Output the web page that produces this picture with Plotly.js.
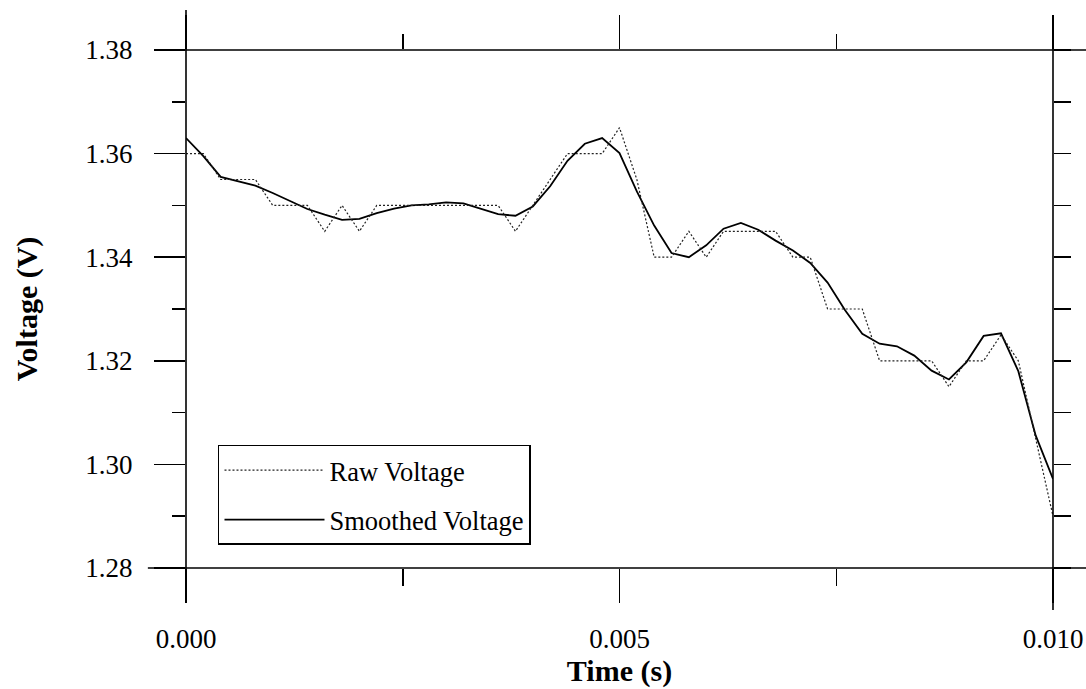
<!DOCTYPE html>
<html>
<head>
<meta charset="utf-8">
<script src="https://cdn.plot.ly/plotly-3.0.1.min.js"></script>
<style>
  html, body { margin: 0; padding: 0; background: #fff; }
  #chart { width: 1086px; height: 689px; }
</style>
</head>
<body>
<div id="chart"></div>
<script>
// Sample times (s)
const time = [
  0.0000, 0.0002, 0.0004, 0.0006, 0.0008, 0.0010, 0.0012, 0.0014, 0.0016, 0.0018,
  0.0020, 0.0022, 0.0024, 0.0026, 0.0028, 0.0030, 0.0032, 0.0034, 0.0036, 0.0038,
  0.0040, 0.0042, 0.0044, 0.0046, 0.0048, 0.0050, 0.0052, 0.0054, 0.0056, 0.0058,
  0.0060, 0.0062, 0.0064, 0.0066, 0.0068, 0.0070, 0.0072, 0.0074, 0.0076, 0.0078,
  0.0080, 0.0082, 0.0084, 0.0086, 0.0088, 0.0090, 0.0092, 0.0094, 0.0096, 0.0098,
  0.0100
];

// Raw voltage (V), quantised readings
const rawVoltage = [
  1.360, 1.360, 1.355, 1.355, 1.355, 1.350, 1.350, 1.350, 1.345, 1.350,
  1.345, 1.350, 1.350, 1.350, 1.350, 1.350, 1.350, 1.350, 1.350, 1.345,
  1.350, 1.355, 1.360, 1.360, 1.360, 1.365, 1.355, 1.340, 1.340, 1.345,
  1.340, 1.345, 1.345, 1.345, 1.345, 1.340, 1.340, 1.330, 1.330, 1.330,
  1.320, 1.320, 1.320, 1.320, 1.315, 1.320, 1.320, 1.325, 1.320, 1.305,
  1.290
];

// Smoothed voltage (V)
const smoothedVoltage = [
  1.3630, 1.3595, 1.3555, 1.3546, 1.3538, 1.3524, 1.3509, 1.3493, 1.3482, 1.3472,
  1.3474, 1.3485, 1.3494, 1.3500, 1.3502, 1.3506, 1.3504, 1.3494, 1.3483, 1.3480,
  1.3498, 1.3537, 1.3586, 1.3619, 1.3630, 1.3601, 1.3527, 1.3461, 1.3408, 1.3400,
  1.3423, 1.3455, 1.3466, 1.3453, 1.3432, 1.3413, 1.3389, 1.3351, 1.3298, 1.3252,
  1.3233, 1.3228, 1.3210, 1.3181, 1.3164, 1.3197, 1.3248, 1.3253, 1.3180, 1.3056,
  1.2972
];

const seriesNames = ['Raw Voltage', 'Smoothed Voltage'];
const xTitle = 'Time (s)';
const yTitle = 'Voltage (V)';
const xRange = [0, 0.010];
const yRange = [1.28, 1.38];
const xMajorTicks = [0, 0.005, 0.010];
const xMajorLabels = ['0.000', '0.005', '0.010'];
const xMinorTicks = [0.0025, 0.0075];
const yMajorTicks = [1.28, 1.30, 1.32, 1.34, 1.36, 1.38];
const yMajorLabels = ['1.28', '1.30', '1.32', '1.34', '1.36', '1.38'];
const yMinorTicks = [1.29, 1.31, 1.33, 1.35, 1.37];
const yRightTicks = [1.28, 1.29, 1.30, 1.31, 1.32, 1.33, 1.34, 1.35, 1.36, 1.37, 1.38];

const FONT = 'Liberation Serif, "Times New Roman", Times, serif';
const INK = '#000000';

const traces = [
  {
    x: time, y: rawVoltage, name: seriesNames[0],
    type: 'scatter', mode: 'lines',
    xaxis: 'x2', yaxis: 'y2',
    legendgroup: 'a',
    line: { color: '#222222', width: 1.2, dash: '2px,2px' },
    hoverinfo: 'skip'
  },
  {
    x: time, y: smoothedVoltage, name: seriesNames[1],
    type: 'scatter', mode: 'lines',
    legendgroup: 'b',
    line: { color: INK, width: 1.8 },
    hoverinfo: 'skip'
  }
];

const axisLine = (x0, y0, x1, y1) => ({
  type: 'line', xref: 'paper', yref: 'paper',
  x0: x0, y0: y0, x1: x1, y1: y1,
  line: { color: INK, width: 1.6 }, layer: 'above'
});

const layout = {
  width: 1086, height: 689,
  margin: { l: 186, r: 33, t: 50, b: 121, pad: 0 },
  paper_bgcolor: '#ffffff', plot_bgcolor: '#ffffff',
  font: { family: FONT, color: INK, size: 27 },
  showlegend: true,
  legend: {
    x: 0.0369, y: 0.2375, xanchor: 'left', yanchor: 'top',
    bordercolor: INK, borderwidth: 1.5, bgcolor: '#ffffff',
    font: { family: FONT, size: 26.5, color: INK },
    itemwidth: 100, traceorder: 'grouped', tracegroupgap: 12
  },
  xaxis: {
    range: xRange, tickmode: 'array', tickvals: xMajorTicks, ticktext: xMajorLabels,
    ticks: 'outside', ticklen: 34, tickwidth: 1.5, tickcolor: INK,
    minor: { tickmode: 'array', tickvals: xMinorTicks, ticks: 'outside', ticklen: 17, tickwidth: 1.5, tickcolor: INK, showgrid: false },
    ticklabelstandoff: 13, ticklabeloverflow: 'allow',
    tickfont: { family: FONT, size: 27, color: INK },
    showgrid: false, zeroline: false, showline: false, fixedrange: true,
    title: { text: '<b>' + xTitle + '</b>', font: { family: FONT, size: 30, color: INK }, standoff: 2 }
  },
  yaxis: {
    range: yRange, tickmode: 'array', tickvals: yMajorTicks, ticktext: yMajorLabels,
    ticks: 'outside', ticklen: 31, tickwidth: 1.5, tickcolor: INK,
    minor: { tickmode: 'array', tickvals: yMinorTicks, ticks: 'outside', ticklen: 13, tickwidth: 1.5, tickcolor: INK, showgrid: false },
    ticklabelstandoff: 16,
    tickfont: { family: FONT, size: 27, color: INK },
    showgrid: false, zeroline: false, showline: false, fixedrange: true,
    title: { text: '<b>' + yTitle + '</b>', font: { family: FONT, size: 30, color: INK }, standoff: 38 }
  },
  xaxis2: {
    overlaying: 'x', side: 'top', anchor: 'y2',
    range: xRange, tickmode: 'array', tickvals: xMajorTicks,
    ticks: 'outside', ticklen: 34, tickwidth: 1.5, tickcolor: INK,
    minor: { tickmode: 'array', tickvals: xMinorTicks, ticks: 'outside', ticklen: 15, tickwidth: 1.5, tickcolor: INK, showgrid: false },
    showticklabels: false, showgrid: false, zeroline: false, showline: false, fixedrange: true
  },
  yaxis2: {
    overlaying: 'y', side: 'right', anchor: 'x2',
    range: yRange, tickmode: 'array', tickvals: yRightTicks,
    ticks: 'outside', ticklen: 17, tickwidth: 1.5, tickcolor: INK,
    showticklabels: false, showgrid: false, zeroline: false, showline: false, fixedrange: true
  },
  shapes: [
    axisLine(0, -0.062, 0, 1.077),
    axisLine(1, -0.081, 1, 1.054),
    axisLine(-0.036, 1, 1.04, 1),
    axisLine(-0.044, 0, 1.04, 0)
  ]
};

Plotly.newPlot('chart', traces, layout, { displayModeBar: false, staticPlot: true });
</script>
</body>
</html>
